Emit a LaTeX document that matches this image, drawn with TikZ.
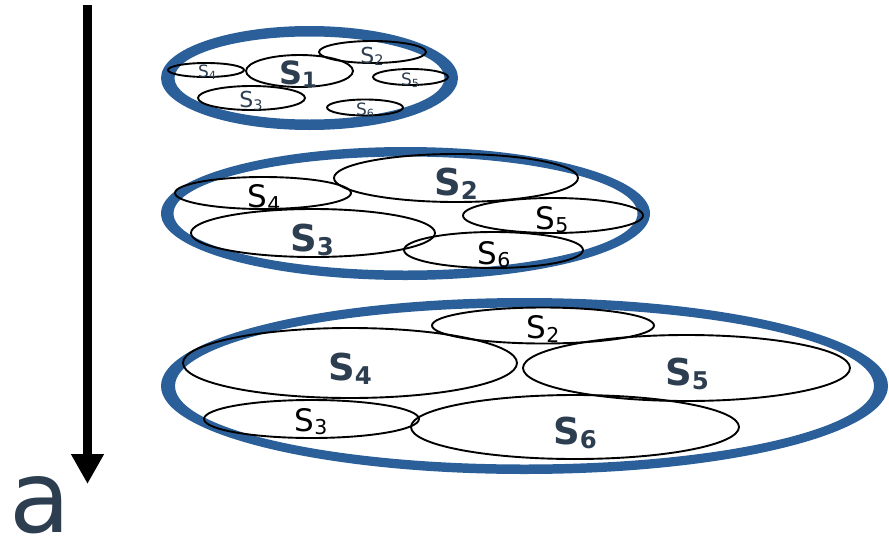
\documentclass[tikz,border=0pt]{standalone}
\usepackage{fontspec}
\setmainfont{DejaVu Sans}
\usetikzlibrary{shapes.geometric,arrows.meta}

\definecolor{ringblue}{RGB}{43,95,153}
\definecolor{slate}{RGB}{44,62,80}

% S with a lowered, reduced index
\newcommand{\setlab}[2]{#1\raisebox{-0.1em}{\scalebox{0.66}{#2}}}

\tikzset{
  ringfill/.style={fill=ringblue, even odd rule},
  subset/.style={draw=black, line width=1.9pt, ellipse, inner sep=0pt},
  lab/.style={inner sep=0pt, text=slate},
  labk/.style={inner sep=0pt, text=black},
  lbold/.style={font=\fontsize{#1}{#1}\selectfont\bfseries},
  lplain/.style={font=\fontsize{#1}{#1}\selectfont},
}

\begin{document}
\begin{tikzpicture}[x=1pt, y=-1pt]
\useasboundingbox (0,0) rectangle (889,541);

% ---- direction of growth ----
\coordinate (arrtop) at (87.5,5);
\coordinate (arrtip) at (87.5,484);
\draw[line width=9pt, -{Triangle[width=31pt,length=30pt]}] (arrtop) -- (arrtip);
\node[inner sep=0pt, text=slate, font=\fontsize{100}{100}\selectfont] (alab) at (40,505) {a};

% ---- first stage ----
\coordinate (r1) at (309.5,78);
\fill[ringfill] (r1) ellipse [x radius=148.5pt, y radius=52pt]
                (r1) ellipse [x radius=135pt, y radius=41.5pt];
\node[subset, minimum width=76pt, minimum height=14pt] (a4) at (206,70) {};
\node[subset, minimum width=107pt, minimum height=32pt] (a1) at (299.5,71) {};
\node[subset, minimum width=107pt, minimum height=22pt] (a2) at (372.5,52) {};
\node[subset, minimum width=75pt, minimum height=16pt] (a5) at (410.5,77) {};
\node[subset, minimum width=107pt, minimum height=24pt] (a3) at (251.5,98) {};
\node[subset, minimum width=76pt, minimum height=16pt] (a6) at (365,107.5) {};
\node[lab, lbold=32] (ta1) at (298,74) {\setlab{S}{1}};
\node[lab, lplain=22] (ta2) at (372,56) {\setlab{S}{2}};
\node[lab, lplain=17] (ta4) at (207,72) {\setlab{S}{4}};
\node[lab, lplain=17] (ta5) at (410,80) {\setlab{S}{5}};
\node[lab, lplain=22] (ta3) at (251,101) {\setlab{S}{3}};
\node[lab, lplain=17] (ta6) at (365,110) {\setlab{S}{6}};

% ---- second stage ----
\coordinate (r2) at (405.5,213.5);
\fill[ringfill] (r2) ellipse [x radius=244.5pt, y radius=66.5pt]
                (r2) ellipse [x radius=232pt, y radius=57pt];
\node[subset, minimum width=244pt, minimum height=48pt] (b2) at (456,178) {};
\node[subset, minimum width=176pt, minimum height=32pt] (b4) at (263,193) {};
\node[subset, minimum width=180pt, minimum height=35pt] (b5) at (553,215.5) {};
\node[subset, minimum width=244pt, minimum height=48pt] (b3) at (313,233) {};
\node[subset, minimum width=179pt, minimum height=36pt] (b6) at (493.5,250) {};
\node[lab, lbold=37] (tb2) at (456,184) {\setlab{S}{2}};
\node[labk, lplain=31] (tb4) at (264,198) {\setlab{S}{4}};
\node[labk, lplain=31] (tb5) at (552,220) {\setlab{S}{5}};
\node[lab, lbold=37] (tb3) at (312,240) {\setlab{S}{3}};
\node[labk, lplain=31] (tb6) at (494,255) {\setlab{S}{6}};

% ---- third stage ----
\coordinate (r3) at (524.5,386);
\fill[ringfill] (r3) ellipse [x radius=363.5pt, y radius=88pt]
                (r3) ellipse [x radius=349.5pt, y radius=78.5pt];
\node[subset, minimum width=222pt, minimum height=36pt] (c2) at (543,325.5) {};
\node[subset, minimum width=334pt, minimum height=70pt] (c4) at (350,363) {};
\node[subset, minimum width=327pt, minimum height=66pt] (c5) at (686.5,368) {};
\node[subset, minimum width=215pt, minimum height=38pt] (c3) at (311.5,419) {};
\node[subset, minimum width=328pt, minimum height=64pt] (c6) at (575,427) {};
\node[labk, lplain=31] (tc2) at (543,329) {\setlab{S}{2}};
\node[lab, lbold=37] (tc4) at (350,369) {\setlab{S}{4}};
\node[lab, lbold=37] (tc5) at (687,374) {\setlab{S}{5}};
\node[labk, lplain=31] (tc3) at (311,422) {\setlab{S}{3}};
\node[lab, lbold=37] (tc6) at (575,433) {\setlab{S}{6}};
\end{tikzpicture}
\end{document}
